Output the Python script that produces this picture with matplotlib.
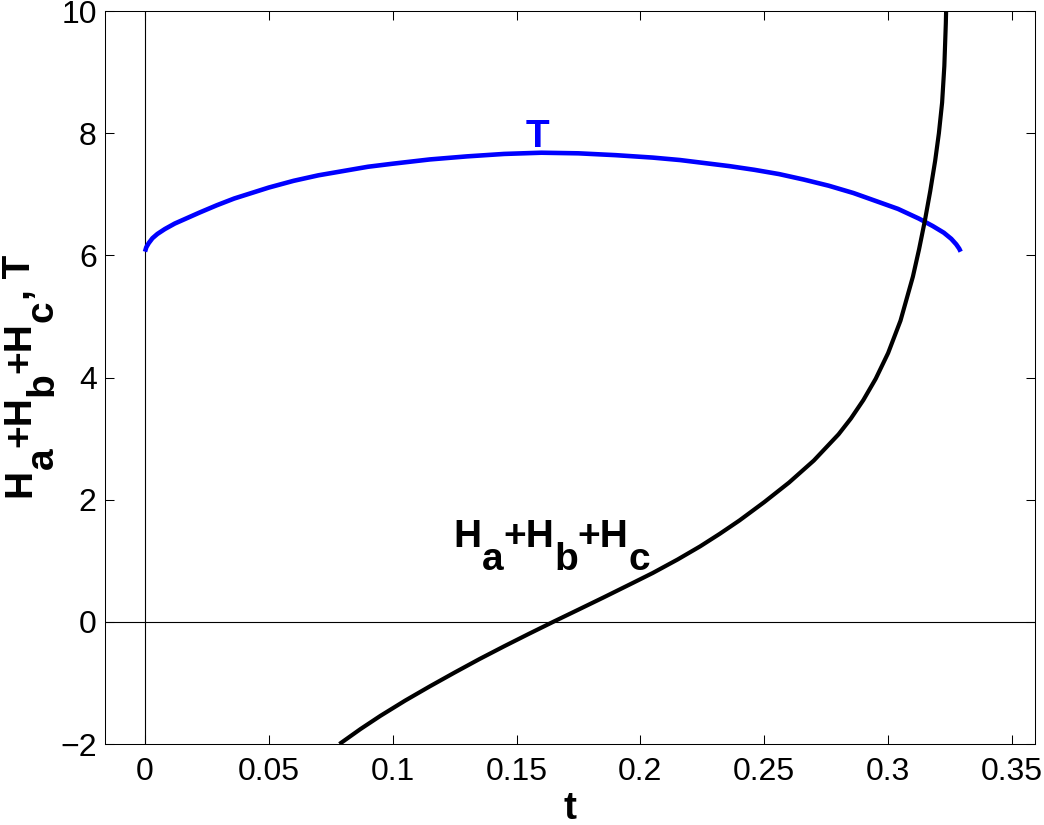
import matplotlib
matplotlib.use("Agg")
import matplotlib.pyplot as plt

# ---- data ----
t_T = [0.0, 0.0005, 0.0015, 0.003, 0.005, 0.008, 0.012, 0.017, 0.022, 0.029,
       0.036, 0.043, 0.050, 0.060, 0.070, 0.080, 0.090, 0.100, 0.115, 0.130,
       0.145, 0.160, 0.175, 0.190, 0.205, 0.216, 0.226, 0.236, 0.246, 0.256,
       0.266, 0.276, 0.286, 0.2964, 0.304, 0.3125, 0.318, 0.3225, 0.3255,
       0.3275, 0.3287, 0.3293]
T_vals = [6.06, 6.13, 6.20, 6.28, 6.35, 6.43, 6.52, 6.61, 6.70, 6.82,
          6.93, 7.02, 7.11, 7.22, 7.31, 7.38, 7.45, 7.50, 7.57, 7.62,
          7.66, 7.68, 7.67, 7.64, 7.60, 7.56, 7.51, 7.46, 7.40, 7.33,
          7.24, 7.14, 7.02, 6.87, 6.76, 6.60, 6.48, 6.37, 6.27,
          6.18, 6.11, 6.06]

t_H = [0.0785, 0.087, 0.095, 0.105, 0.115, 0.125, 0.135, 0.145, 0.155,
       0.1648, 0.175, 0.185, 0.1971, 0.205, 0.215, 0.2241, 0.232, 0.240,
       0.250, 0.260, 0.270, 0.280, 0.285, 0.290, 0.295, 0.300, 0.305,
       0.310, 0.3125, 0.3149, 0.3170, 0.3190, 0.3205, 0.3218, 0.3227,
       0.3233, 0.3237, 0.3240]
H_vals = [-2.00, -1.755, -1.54, -1.29, -1.056, -0.83, -0.61, -0.40, -0.196,
          0.0, 0.20, 0.397, 0.64, 0.80, 1.02, 1.235, 1.44, 1.66,
          1.96, 2.28, 2.64, 3.07, 3.33, 3.63, 3.98, 4.40, 4.93,
          5.65, 6.10, 6.58, 7.05, 7.55, 8.00, 8.50, 9.10,
          9.80, 10.5, 11.2]

x_ticks = [0, 0.05, 0.1, 0.15, 0.2, 0.25, 0.3, 0.35]
x_ticklabels = ["0", "0.05", "0.1", "0.15", "0.2", "0.25", "0.3", "0.35"]
y_ticks = [-2, 0, 2, 4, 6, 8, 10]
y_ticklabels = ["\u22122", "0", "2", "4", "6", "8", "10"]

plt.rcParams['font.family'] = ['Liberation Sans', 'DejaVu Sans']

W, H = 1044, 825
fig = plt.figure(figsize=(W / 100, H / 100), dpi=100)
ax = fig.add_axes([105 / W, 1 - 744 / H, 930 / W, 733 / H])

ax.axhline(0, color='black', lw=0.8, zorder=1)
ax.axvline(0, color='black', lw=0.8, zorder=1)
ax.plot(t_T, T_vals, color='#0000ff', lw=3.3, zorder=3, solid_capstyle='butt',
        solid_joinstyle='round')
ax.plot(t_H, H_vals, color='black', lw=3.0, zorder=4, solid_capstyle='butt',
        solid_joinstyle='round')

ax.set_xlim(-0.01615, 0.3593)
ax.set_ylim(-2, 10)
ax.set_xticks(x_ticks)
ax.set_xticklabels(x_ticklabels)
ax.set_yticks(y_ticks)
ax.set_yticklabels(y_ticklabels)
ax.tick_params(direction='in', top=True, right=True, length=6.5, width=0.75,
               labelsize=23)
ax.tick_params(axis='x', pad=9)
ax.tick_params(axis='y', pad=6)
for sp in ax.spines.values():
    sp.set_linewidth(0.75)

FS = 28
DROP = 16.3  # points, subscript lowering


def chain_h(x, y, pieces, color):
    prev = ax.text(x, y, pieces[0][0], ha='left', va='baseline', fontsize=FS,
                   fontweight='bold', color=color)
    prev_shift = pieces[0][1]
    for s, sh in pieces[1:]:
        prev = ax.annotate(s, xy=(1, 0), xycoords=prev,
                           xytext=(0, -(sh - prev_shift) * DROP),
                           textcoords='offset points', ha='left', va='bottom',
                           fontsize=FS, fontweight='bold', color=color)
        prev_shift = sh


def chain_v(xf, yf, pieces, color):
    prev = ax.text(xf, yf, pieces[0][0], ha='right', va='bottom', rotation=90,
                   transform=fig.transFigure, clip_on=False,
                   fontsize=FS, fontweight='bold', color=color)
    prev_shift = pieces[0][1]
    for s, sh in pieces[1:]:
        prev = ax.annotate(s, xy=(1, 1), xycoords=prev,
                           xytext=((sh - prev_shift) * DROP, 0),
                           textcoords='offset points', ha='right', va='bottom',
                           rotation=90, fontsize=FS, fontweight='bold',
                           color=color, annotation_clip=False)
        prev_shift = sh


label_pieces = [("H", 0), ("a", 1), ("+H", 0), ("b", 1), ("+H", 0), ("c", 1)]
chain_h(0.1245, 1.22, label_pieces, 'black')
ax.text(0.1583, 7.77, "T", ha='center', va='baseline', fontsize=FS,
        fontweight='bold', color='#0000ff')

chain_v(38 / W, 1 - 497 / H, label_pieces + [(", T", 0)], 'black')
fig.text(570 / W, 1 - 819 / H, "t", ha='center', va='baseline', fontsize=FS,
         fontweight='bold')

fig.savefig("out.png", dpi=100)
